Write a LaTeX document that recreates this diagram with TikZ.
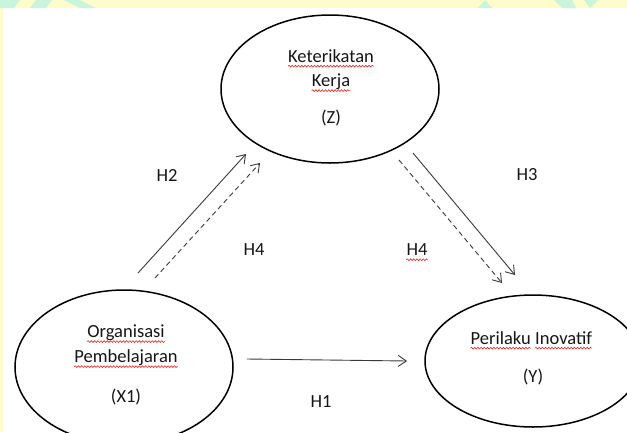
\documentclass[tikz,border=0pt]{standalone}
\usepackage{fontspec}
\setmainfont{Carlito}
\usetikzlibrary{arrows.meta,decorations.pathmorphing,shapes.geometric}
\definecolor{bgyellow}{HTML}{FFFCCB}
\definecolor{bggreen}{HTML}{C8F5DC}
\definecolor{arrowgray}{HTML}{3A3A3A}
\definecolor{spellred}{HTML}{E3231E}
\definecolor{txtcol}{HTML}{161616}
\begin{document}
\begin{tikzpicture}[x=1pt,y=-1pt,
  oval/.style={draw=black, line width=1.5pt, ellipse, inner sep=0pt},
  txt/.style={inner sep=0pt, font=\fontsize{18.5}{22}\selectfont, text=txtcol},
  conn/.style={draw=arrowgray, line width=0.9pt, -{Straight Barb[length=8pt,width=11pt,line width=0.9pt]}},
  dashconn/.style={conn, dash pattern=on 5pt off 3.5pt},
  spell/.style={draw=spellred, line width=0.6pt, decorate,
    decoration={snake, segment length=3.2pt, amplitude=0.9pt}}
]
\useasboundingbox (0,0) rectangle (627,432);
\clip (0,0) rectangle (627,432);
\fill[white] (0,0) rectangle (627,432);
% background strips
\fill[bgyellow] (0,0) rectangle (627,8);
\fill[bgyellow] (0,0) rectangle (2.5,432);
\fill[bggreen] (0,0) -- (20,0) -- (14,8) -- (0,8) -- cycle;
\fill[bggreen] (36,0) -- (52,0) -- (46,8) -- (30,8) -- cycle;
\fill[bggreen] (64,0) -- (80,0) -- (96,8) -- (80,8) -- cycle;
\fill[bggreen] (478,8) -- (485,0) -- (492,8) -- cycle;
\fill[bggreen] (554,0) -- (572,0) -- (576,8) -- (562,8) -- cycle;
\fill[bggreen] (584,0) -- (598,0) -- (590,8) -- cycle;

% ellipses
\node[oval, minimum width=218pt, minimum height=148pt] (Z) at (330,89) {};
\node[oval, minimum width=218pt, minimum height=154pt] (X) at (124,367) {};
\node[oval, minimum width=216pt, minimum height=132pt] (Y) at (533,361) {};

% texts in Z
\node[txt] (z1) at (331,56) {Keterikatan};
\node[txt] (z2) at (331,82) {Kerja};
\node[txt] (z3) at (331,118) {(Z)};
% texts in X1
\node[txt] (x1) at (126,333) {Organisasi};
\node[txt] (x2) at (126,358) {Pembelajaran};
\node[txt] (x3) at (126,397) {(X1)};
% texts in Y
\node[txt, anchor=east] (y1) at (531,338) {Perilaku};
\node[txt, anchor=west] (y2) at (535,338) {Inovatif};
\node[txt] (y3) at (533,377) {(Y)};

% hypothesis labels
\node[txt] (h2) at (167,175) {H2};
\node[txt] (h4a) at (254,250) {H4};
\node[txt] (h4b) at (417,250) {H4};
\node[txt] (h3) at (527,175) {H3};
\node[txt] (h1) at (321,402) {H1};

% spell-check underlines
\foreach \n in {z1,z2,x1,x2,y1,y2,h4b}{
  \draw[spell] ([yshift=-3.8pt]\n.base west) -- ([yshift=-3.8pt]\n.base east);
}

% connector end points
\coordinate (a1s) at (247,359);
\coordinate (a1e) at (407,361);
\coordinate (a2s) at (138,273);
\coordinate (a2e) at (246,154);
\coordinate (a4s) at (155,278);
\coordinate (a4e) at (260,163);
\coordinate (a3s) at (413,153);
\coordinate (a3e) at (515,275);
\coordinate (a5s) at (399,160);
\coordinate (a5e) at (502,283);

\draw[conn] (a1s) -- (a1e);
\draw[conn] (a2s) -- (a2e);
\draw[dashconn] (a4s) -- (a4e);
\draw[conn] (a3s) -- (a3e);
\draw[dashconn] (a5s) -- (a5e);
\end{tikzpicture}
\end{document}
